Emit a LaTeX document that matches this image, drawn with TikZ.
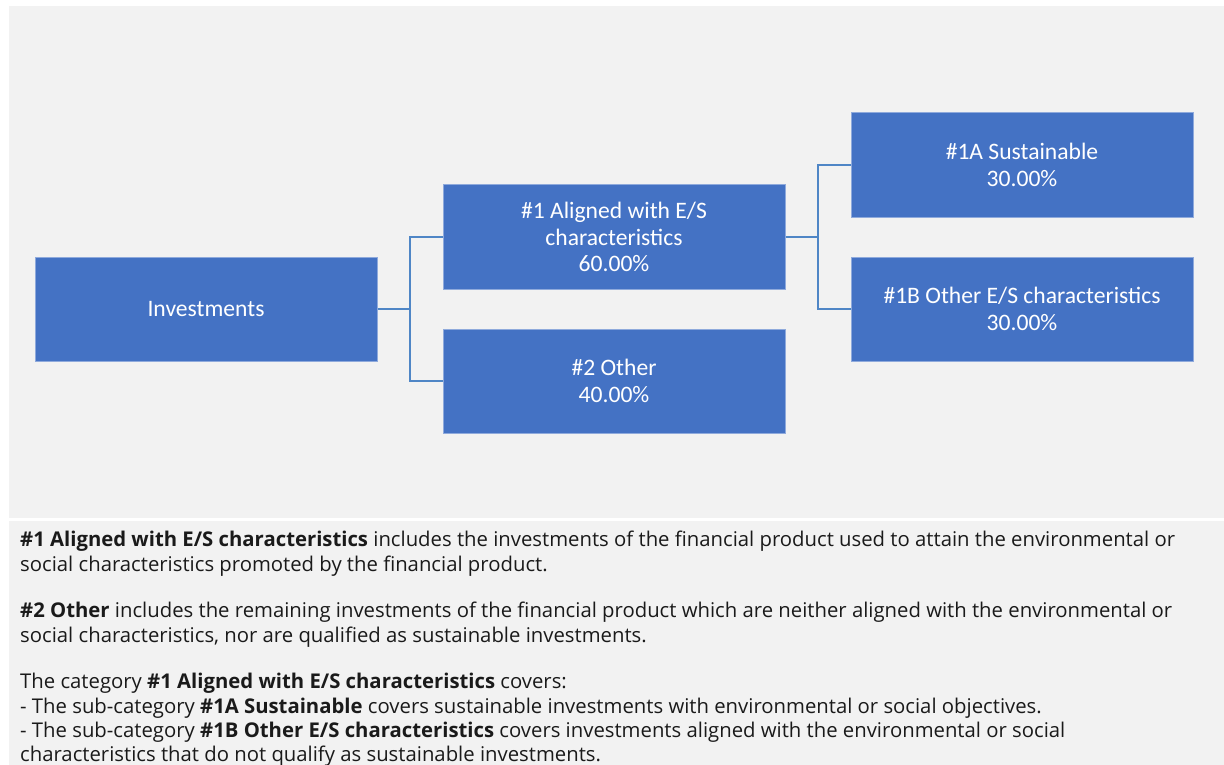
\documentclass[tikz,border=0pt]{standalone}
\usepackage{fontspec}
\setmainfont{Open Sans}
\newfontfamily\boxfont{Carlito}
\usepackage{tikz}
\usetikzlibrary{positioning}
\definecolor{boxblue}{HTML}{4472C4}
\definecolor{boxedge}{HTML}{8FAADC}
\definecolor{linkblue}{HTML}{4F86C6}
\definecolor{panelgray}{HTML}{F2F2F2}
\definecolor{txt}{HTML}{1A1A1A}
\tikzset{
  catbox/.style={
    rectangle, draw=boxedge, fill=boxblue, line width=1pt,
    minimum width=342pt, minimum height=104pt,
    font=\boxfont\fontsize{23.6}{26.7}\selectfont, text=white, align=center,
    inner sep=2pt
  },
  link/.style={
    draw=linkblue, line width=2pt
  },
  panel/.style={
    fill=panelgray, draw=none
  },
  notetext/.style={
    font=\fontsize{20.3}{24.3}\selectfont, text=txt, align=left,
    inner sep=0pt
  },
}

\begin{document}
\begin{tikzpicture}[x=1pt, y=-1pt, node distance=-33pt and 65pt]
  \useasboundingbox (0,0) rectangle (1224,765);
  \fill[white] (0,0) rectangle (1224,765);
  % grey panels
  \path[panel] (9,6) rectangle (1224,518);
  \path[panel] (9,521) rectangle (1224,765);

  % tree
  \node[catbox] (inv) at (206,309) {Investments};
  \node[catbox, above right=of inv] (aligned)
    {\#1 Aligned with E/S\\characteristics\\60.00\%};
  \node[catbox, below right=of inv] (other) {\#2 Other\\40.00\%};
  \node[catbox, above right=of aligned] (sust) {\#1A Sustainable\\30.00\%};
  \node[catbox, below right=of aligned] (otheres)
    {\#1B Other E/S characteristics\\30.00\%};

  \draw[link] (inv.east) -- ++(32pt,0) coordinate (j1) |- (aligned.west);
  \draw[link] (j1) |- (other.west);
  \draw[link] (aligned.east) -- ++(32pt,0) coordinate (j2) |- (sust.west);
  \draw[link] (j2) |- (otheres.west);

  % notes
  \node[notetext, anchor=north west] (notes) at (20,531) {%
    \textbf{\#1 Aligned with E/S characteristics} includes the investments of the financial product used to attain the environmental or\\
    social characteristics promoted by the financial product.\\[22.5pt]
    \textbf{\#2 Other} includes the remaining investments of the financial product which are neither aligned with the environmental or\\
    social characteristics, nor are qualified as sustainable investments.\\[22.5pt]
    The category \textbf{\#1 Aligned with E/S characteristics} covers:\\
    - The sub-category \textbf{\#1A Sustainable} covers sustainable investments with environmental or social objectives.\\
    - The sub-category \textbf{\#1B Other E/S characteristics} covers investments aligned with the environmental or social\\
    characteristics that do not qualify as sustainable investments.};
\end{tikzpicture}
\end{document}
